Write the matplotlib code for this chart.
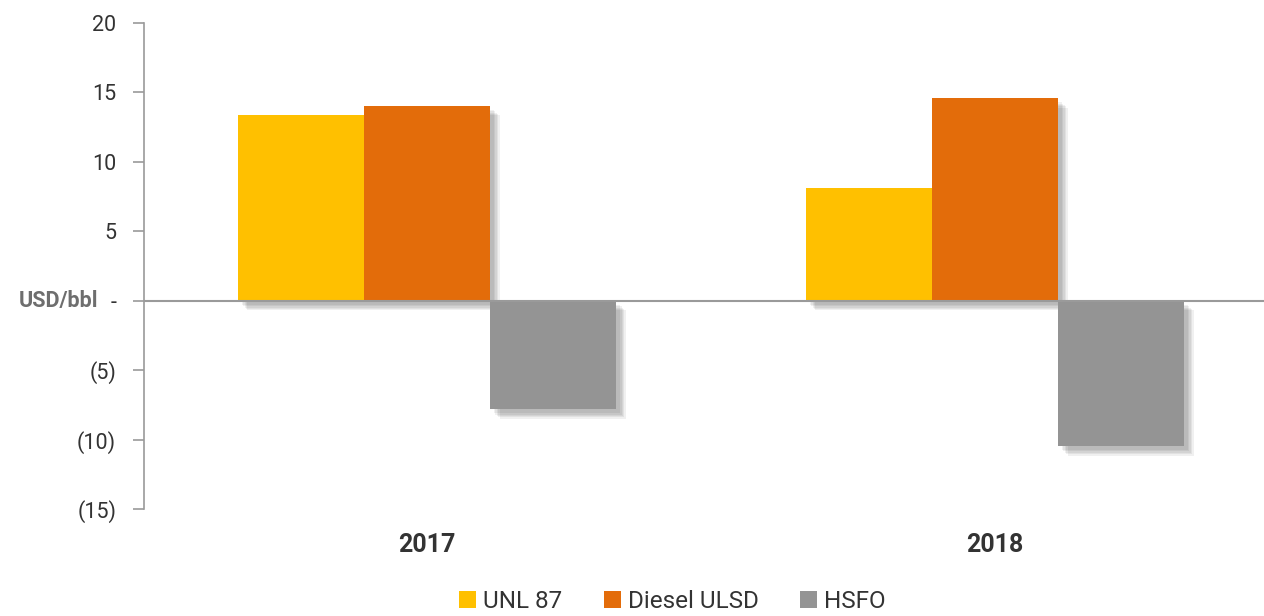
import numpy as np
import matplotlib
matplotlib.use('Agg')
import matplotlib.pyplot as plt
import matplotlib.patheffects as pe
import matplotlib.transforms as mtransforms
from matplotlib.patches import Patch

# crack spreads, USD/bbl
years = ['2017', '2018']
series = ['UNL 87', 'Diesel ULSD', 'HSFO']
unl87 = [13.35, 8.1]
diesel = [14.05, 14.6]
hsfo = [-7.8, -10.45]
colors = ['#FFC000', '#E36C0A', '#949494']

yticks = [20, 15, 10, 5, 0, -5, -10, -15]
ytick_labels = ['20', '15', '10', '5', '-', '(5)', '(10)', '(15)']

plt.rcParams['font.family'] = ['Roboto', 'DejaVu Sans']

fig = plt.figure(figsize=(12.64, 6.16), dpi=100)
ax = fig.add_axes([0.1139, 0.1737, 0.8861, 0.789])

x = np.arange(len(years))
w = 0.222
# soft drop shadow, stacked a few times to fake a blur
shadow = [pe.SimplePatchShadow(offset=(o, -o), shadow_rgbFace='#000000', alpha=0.06)
          for o in (7, 6, 5, 4, 3)] + [pe.Normal()]
for i, (vals, name) in enumerate(zip([unl87, diesel, hsfo], series)):
    bars = ax.bar(x + (i - 1) * w, vals, width=w, color=colors[i], label=name, zorder=2)
    for b in bars:
        b.set_path_effects(shadow)

ax.axhline(0, color='#9a9a9a', lw=1.5, zorder=3)

ax.set_ylim(-15, 20)
ax.set_xlim(-0.498, 1.474)
ax.set_yticks(yticks)
ax.set_yticklabels(ytick_labels, fontsize=15.5, color='#333333')
ax.tick_params(axis='y', direction='out', length=8, width=1.2, color='#9a9a9a', pad=12)
ax.set_xticks(x)
ax.set_xticklabels(years, fontsize=18, fontweight='bold', color='#333333')
ax.tick_params(axis='x', length=0, pad=17)

for s in ['top', 'right', 'bottom']:
    ax.spines[s].set_visible(False)
ax.spines['left'].set_color('#9a9a9a')
ax.spines['left'].set_linewidth(1.2)

trans = mtransforms.blended_transform_factory(fig.transFigure, ax.transData)
ax.text(98 / 1264, 0, 'USD/bbl', transform=trans, ha='right', va='center',
        fontsize=15.5, fontweight='bold', color='#6e6e6e')

handles = [Patch(facecolor=c, label=n) for c, n in zip(colors, series)]
fig.legend(handles=handles, loc='lower center', bbox_to_anchor=(0.532, -0.03), ncol=3,
           frameon=False, fontsize=17.5, handlelength=0.7, handleheight=0.7,
           handletextpad=0.3, columnspacing=1.7, labelcolor='#333333')

fig.savefig('out.png', dpi=100)
